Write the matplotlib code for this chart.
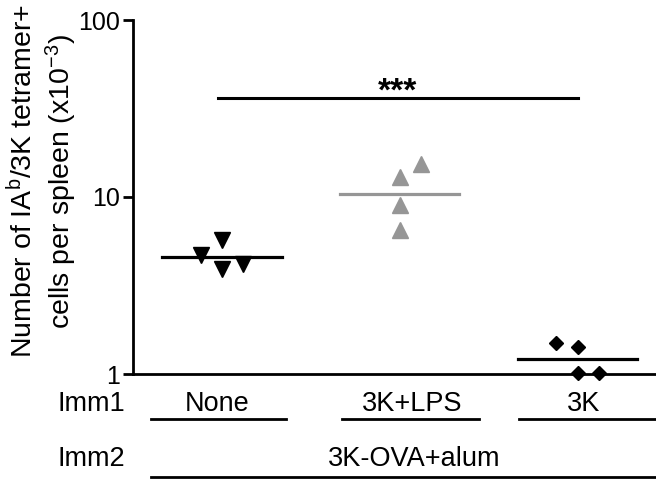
import numpy as np
import matplotlib
matplotlib.use("Agg")
import matplotlib.pyplot as plt
from matplotlib.transforms import blended_transform_factory

plt.rcParams['font.family'] = ['Liberation Sans', 'DejaVu Sans']
plt.rcParams['mathtext.default'] = 'regular'

# data (x10^-3 cells per spleen)
groups = ["None", "3K+LPS", "3K"]
none_vals = [5.7, 4.7, 3.9, 4.2]
lps_vals = [15.4, 13.0, 9.0, 6.5]
k3_vals = [1.50, 1.42, 1.01, 1.01]
none_x = [0.0, -0.12, 0.0, 0.12]
lps_x = [0.12, 0.0, 0.0, 0.0]
k3_x = [-0.12, 0.0, 0.0, 0.12]
sig_y = 36.3

fig = plt.figure(figsize=(6.56, 4.79), dpi=100)
ax = fig.add_axes([133/656, 1 - 374/479, 1 - 133/656, 354/479])

series = [(none_vals, none_x, 'v', 'black', 11),
          (lps_vals, lps_x, '^', '#969696', 11),
          (k3_vals, k3_x, 'D', 'black', 7)]
for i, (vals, dx, mk, col, ms) in enumerate(series):
    ax.plot(np.array(dx) + i, vals, linestyle='none', marker=mk, color=col,
            markersize=ms, clip_on=False, zorder=3)
    # geometric mean line (log scale)
    m = np.exp(np.mean(np.log(vals)))
    ax.plot([i - 0.335, i + 0.335], [m, m], color=col, lw=2.3, zorder=2)

ax.set_yscale('log')
ax.set_ylim(1, 100)
ax.set_xlim(-0.5, 2.44)
ax.set_yticks([1, 10, 100])
ax.set_yticklabels(['1', '10', '100'])
ax.yaxis.set_minor_locator(matplotlib.ticker.NullLocator())
ax.set_xticks([])
ax.tick_params(axis='y', labelsize=18, length=7, width=2, pad=2)
for s in ['top', 'right']:
    ax.spines[s].set_visible(False)
for s in ['left', 'bottom']:
    ax.spines[s].set_linewidth(2)

ax.set_ylabel("Number of IA$^{b}$/3K tetramer+\ncells per spleen (x10$^{-3}$)",
              fontsize=20.5, linespacing=1.2)
ax.yaxis.set_label_coords(-0.104, 0.545)

# significance bar
ax.plot([-0.02, 2.0], [sig_y, sig_y], color='black', lw=2.2)
ax.text(0.985, sig_y * 0.97, "***", ha='center', va='baseline', fontsize=24,
        fontweight='bold')

# group rows below the axis
tr = blended_transform_factory(ax.transData, fig.transFigure)
def px(p):
    return (p - 222) / 178.0
def fy(p):
    return 1 - p / 479.0

fig.text(58/656, fy(404), "Imm1", fontsize=19.5, va='center', ha='left')
fig.text(58/656, fy(459), "Imm2", fontsize=19.5, va='center', ha='left')
label_x = [217, 412, 584]
under = [(151, 286), (342, 479), (519, 660)]
for name, lx, (a, b) in zip(groups, label_x, under):
    ax.text(px(lx), fy(404), name, transform=tr, fontsize=19.5,
            ha='center', va='center')
    ax.plot([px(a), px(b)], [fy(419), fy(419)], transform=tr, color='black',
            lw=2, clip_on=False)
ax.text(px(414), fy(459), "3K-OVA+alum", transform=tr, fontsize=19.5,
        ha='center', va='center')
ax.plot([px(151), px(660)], [fy(477), fy(477)], transform=tr, color='black',
        lw=2, clip_on=False)

fig.savefig("out.png", dpi=100)
